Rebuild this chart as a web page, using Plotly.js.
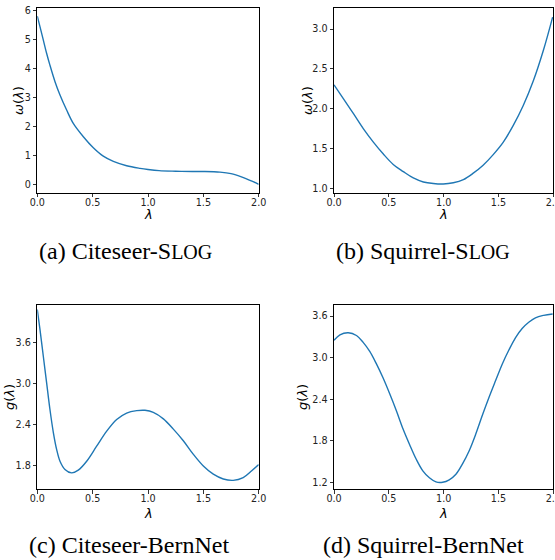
<!DOCTYPE html>
<html>
<head>
<meta charset="utf-8">
<script src="https://cdn.plot.ly/plotly-3.0.1.min.js"></script>
<style>html,body{margin:0;padding:0;background:#fff;}#chart{width:555px;height:560px;}</style>
</head>
<body>
<div id="chart"></div>
<script>
// (a) Citeseer-SLOG  omega(lambda)
const lamA = [0, 0.024, 0.054, 0.084, 0.114, 0.16, 0.205, 0.265, 0.325, 0.416, 0.506, 0.596, 0.687, 0.807, 0.928, 1.0, 1.1, 1.25, 1.4, 1.5, 1.65, 1.75, 1.85, 1.95, 2.0];
const omegaA = [5.80, 5.44, 4.98, 4.52, 4.11, 3.54, 3.08, 2.56, 2.10, 1.64, 1.26, 0.97, 0.79, 0.64, 0.55, 0.51, 0.47, 0.45, 0.44, 0.44, 0.42, 0.37, 0.25, 0.09, 0.0];
// (b) Squirrel-SLOG omega(lambda)
const lamB = [0, 0.085, 0.176, 0.267, 0.359, 0.45, 0.54, 0.632, 0.723, 0.815, 0.906, 0.997, 1.088, 1.18, 1.27, 1.36, 1.45, 1.544, 1.635, 1.726, 1.818, 1.909, 1.994];
const omegaB = [2.30, 2.125, 1.94, 1.75, 1.58, 1.43, 1.30, 1.21, 1.13, 1.08, 1.06, 1.054, 1.07, 1.11, 1.19, 1.29, 1.42, 1.58, 1.79, 2.04, 2.35, 2.73, 3.15];
// (c) Citeseer-BernNet g(lambda)
const lamC = [0, 0.024, 0.054, 0.084, 0.114, 0.145, 0.175, 0.205, 0.25, 0.31, 0.37, 0.446, 0.536, 0.627, 0.717, 0.807, 0.898, 0.973, 1.048, 1.139, 1.229, 1.319, 1.41, 1.5, 1.59, 1.68, 1.77, 1.86, 1.937, 2.0];
const gC = [4.08, 3.79, 3.40, 3.01, 2.62, 2.28, 2.03, 1.86, 1.74, 1.69, 1.73, 1.86, 2.08, 2.30, 2.47, 2.565, 2.60, 2.605, 2.575, 2.48, 2.33, 2.16, 1.96, 1.79, 1.67, 1.60, 1.58, 1.62, 1.72, 1.81];
// (d) Squirrel-BernNet g(lambda)
const lamD = [0, 0.054, 0.13, 0.205, 0.266, 0.326, 0.387, 0.447, 0.508, 0.568, 0.628, 0.689, 0.749, 0.81, 0.87, 0.93, 0.991, 1.051, 1.112, 1.172, 1.233, 1.293, 1.353, 1.414, 1.474, 1.535, 1.595, 1.656, 1.716, 1.776, 1.837, 1.912, 1.994];
const gD = [3.25, 3.33, 3.36, 3.32, 3.22, 3.09, 2.91, 2.71, 2.48, 2.24, 1.98, 1.75, 1.54, 1.37, 1.27, 1.21, 1.205, 1.24, 1.32, 1.47, 1.66, 1.90, 2.17, 2.43, 2.67, 2.91, 3.11, 3.29, 3.42, 3.51, 3.575, 3.61, 3.63];

const xTicks = [0, 0.5, 1.0, 1.5, 2.0];
const yTicksA = [0, 1, 2, 3, 4, 5, 6];
const yTicksB = [1.0, 1.5, 2.0, 2.5, 3.0];
const yTicksC = [1.8, 2.4, 3.0, 3.6];
const yTicksD = [1.2, 1.8, 2.4, 3.0, 3.6];
const sc = '<span style="font-size:20px">LOG</span>';
const captions = ['(a) Citeseer-S' + sc, '(b) Squirrel-S' + sc, '(c) Citeseer-BernNet', '(d) Squirrel-BernNet'];

const W = 555, H = 560;
const px = v => v / W;
const py = v => 1 - v / H;
const blue = '#1f77b4';
const tickFont = {family: 'DejaVu Sans', size: 9.6, color: '#222'};

function line(x, y, ax) {
  return {x: x, y: y, xaxis: 'x' + ax, yaxis: 'y' + ax, type: 'scatter', mode: 'lines',
    line: {color: blue, width: 1.4, shape: 'spline', smoothing: 1}, hoverinfo: 'none', showlegend: false};
}
function xa(dom, anchor) {
  return {domain: dom, anchor: anchor, range: [0, 2], tickvals: xTicks, tickformat: '.1f',
    showline: true, mirror: true, linecolor: '#000', linewidth: 1, ticks: 'outside', ticklen: 3.5,
    tickwidth: 0.8, tickcolor: '#000', showgrid: false, zeroline: false, tickfont: tickFont, fixedrange: true,
    ticklabeloverflow: 'allow', ticklabelstandoff: -3};
}
function ya(dom, anchor, range, vals, fmt) {
  return {domain: dom, anchor: anchor, range: range, tickvals: vals, tickformat: fmt,
    showline: true, mirror: true, linecolor: '#000', linewidth: 1, ticks: 'outside', ticklen: 3.5,
    tickwidth: 0.8, tickcolor: '#000', showgrid: false, zeroline: false, tickfont: tickFont, fixedrange: true};
}

const xL = [px(37.3), px(258.7)], xR = [px(334), px(553.3)];
const yT = [py(192.7), py(8.3)], yB = [py(489.3), py(305)];

const data = [line(lamA, omegaA, ''), line(lamB, omegaB, '2'), line(lamC, gC, '3'), line(lamD, gD, '4')];
data[0].xaxis = 'x'; data[0].yaxis = 'y';

function ann(text, x, y, size, fam, angle) {
  return {text: text, x: px(x), y: py(y), xref: 'paper', yref: 'paper', showarrow: false,
    xanchor: 'center', yanchor: 'middle', textangle: angle || 0,
    font: {family: fam, size: size, color: '#000'}};
}
const lab = 'DejaVu Sans';
const serif = 'Liberation Serif';
const annotations = [
  ann('<i>λ</i>', 148, 215, 13, lab), ann('<i>λ</i>', 443.7, 215, 13, lab),
  ann('<i>λ</i>', 148, 513.5, 13, lab), ann('<i>λ</i>', 443.7, 513.5, 13, lab),
  ann('<i>ω</i>(<i>λ</i>)', 18, 101, 13, lab, -90), ann('<i>ω</i>(<i>λ</i>)', 307, 101, 13, lab, -90),
  ann('<i>g</i>(<i>λ</i>)', 9, 397, 13, lab, -90), ann('<i>g</i>(<i>λ</i>)', 302, 397, 13, lab, -90),
  ann(captions[0], 125.5, 251, 24, serif), ann(captions[1], 423, 251, 24, serif),
  ann(captions[2], 128.5, 545, 24, serif), ann(captions[3], 423.5, 545, 24, serif)
];

const layout = {
  width: W, height: H, margin: {l: 0, r: 0, t: 0, b: 0}, paper_bgcolor: '#fff', plot_bgcolor: '#fff',
  showlegend: false,
  xaxis: xa(xL, 'y'), yaxis: ya(yT, 'x', [-0.29, 6.07], yTicksA, 'd'),
  xaxis2: xa(xR, 'y2'), yaxis2: ya(yT, 'x2', [0.945, 3.26], yTicksB, '.1f'),
  xaxis3: xa(xL, 'y3'), yaxis3: ya(yB, 'x3', [1.449, 4.146], yTicksC, '.1f'),
  xaxis4: xa(xR, 'y4'), yaxis4: ya(yB, 'x4', [1.104, 3.759], yTicksD, '.1f'),
  annotations: annotations
};
Plotly.newPlot('chart', data, layout, {displayModeBar: false, staticPlot: true});
</script>
</body>
</html>
